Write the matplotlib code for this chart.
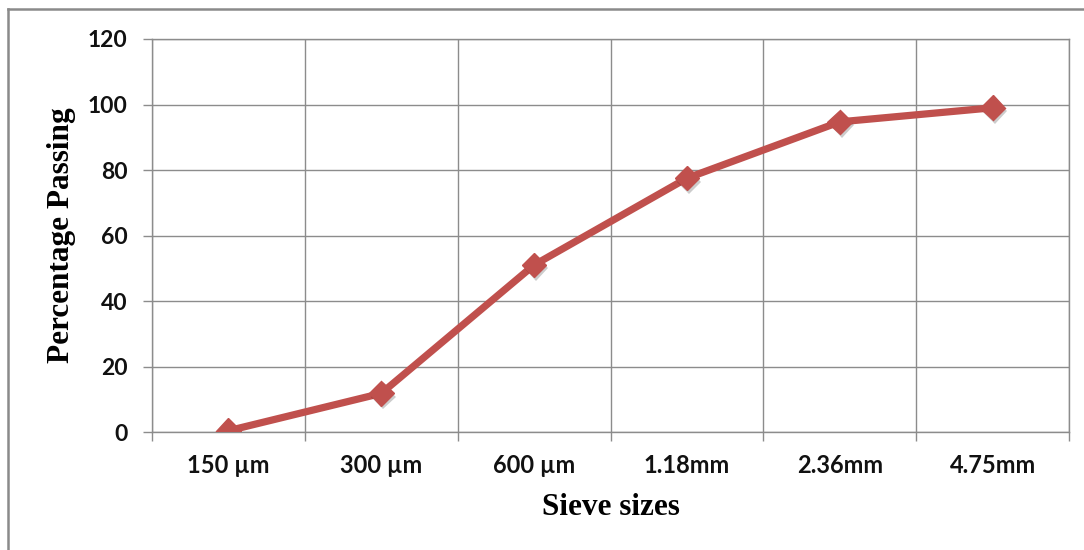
import matplotlib.pyplot as plt
from matplotlib.lines import Line2D
from matplotlib.ticker import FixedLocator
import matplotlib.patheffects as pe

sieve_sizes = ['150 µm', '300 µm', '600 µm', '1.18mm', '2.36mm', '4.75mm']
percent_passing = [0.4, 11.8, 51.0, 77.5, 94.7, 99.0]

red = '#C0504D'
grid_gray = '#8C8C8C'

fig = plt.figure(figsize=(10.84, 5.5), dpi=100)
ax = fig.add_axes([0.1402, 0.2145, 0.8460, 0.7146])

x = range(len(sieve_sizes))
# line first, then the diamond markers with a soft drop shadow
ax.plot(x, percent_passing, color=red, lw=5.2, solid_joinstyle='round',
        solid_capstyle='round', zorder=3)
ax.plot(x, percent_passing, ls='none', marker='D', ms=12.5, color=red,
        markeredgecolor=red,
        path_effects=[pe.SimplePatchShadow(offset=(1.5, -2.5), shadow_rgbFace='k', alpha=0.2),
                      pe.Normal()], zorder=4)

ax.set_xlim(-0.5, len(sieve_sizes) - 0.5)
ax.set_ylim(0, 120)
ax.set_yticks(range(0, 121, 20))
ax.set_xticks(list(x))
ax.set_xticklabels(sieve_sizes)
ax.xaxis.set_minor_locator(FixedLocator([i - 0.5 for i in range(len(sieve_sizes) + 1)]))

ax.grid(True, axis='y', which='major', color=grid_gray, lw=1)
ax.grid(True, axis='x', which='minor', color=grid_gray, lw=1)
ax.set_axisbelow(True)

for s in ax.spines.values():
    s.set_color(grid_gray)
    s.set_linewidth(1)

ax.tick_params(axis='y', which='major', direction='out', length=6.5, width=1,
               color=grid_gray, pad=11, labelsize=16.5)
ax.tick_params(axis='x', which='major', length=0, pad=16, labelsize=17)
ax.tick_params(axis='x', which='minor', direction='out', length=6.5, width=1,
               color=grid_gray)
for lab in ax.get_xticklabels() + ax.get_yticklabels():
    lab.set_family('Lato')
    lab.set_fontweight('bold')
    lab.set_color('#111111')

ax.set_xlabel('Sieve sizes', family='Liberation Serif', fontweight='bold',
              fontsize=22.5, va='center')
ax.xaxis.set_label_coords(0.5005, -0.191)
ax.set_ylabel('Percentage Passing', family='Liberation Serif', fontweight='bold',
              fontsize=22.5, va='center', ha='center')
ax.yaxis.set_label_coords(-0.0992, 0.501)

# chart frame (top and left edges only)
fig.add_artist(Line2D([8 / 1084, 1.0], [1 - 9 / 550, 1 - 9 / 550],
                      transform=fig.transFigure, color='#8A8A8A', lw=1.8))
fig.add_artist(Line2D([8 / 1084, 8 / 1084], [0.0, 1 - 9 / 550],
                      transform=fig.transFigure, color='#8A8A8A', lw=1.8))

fig.savefig('out.png', dpi=100)
